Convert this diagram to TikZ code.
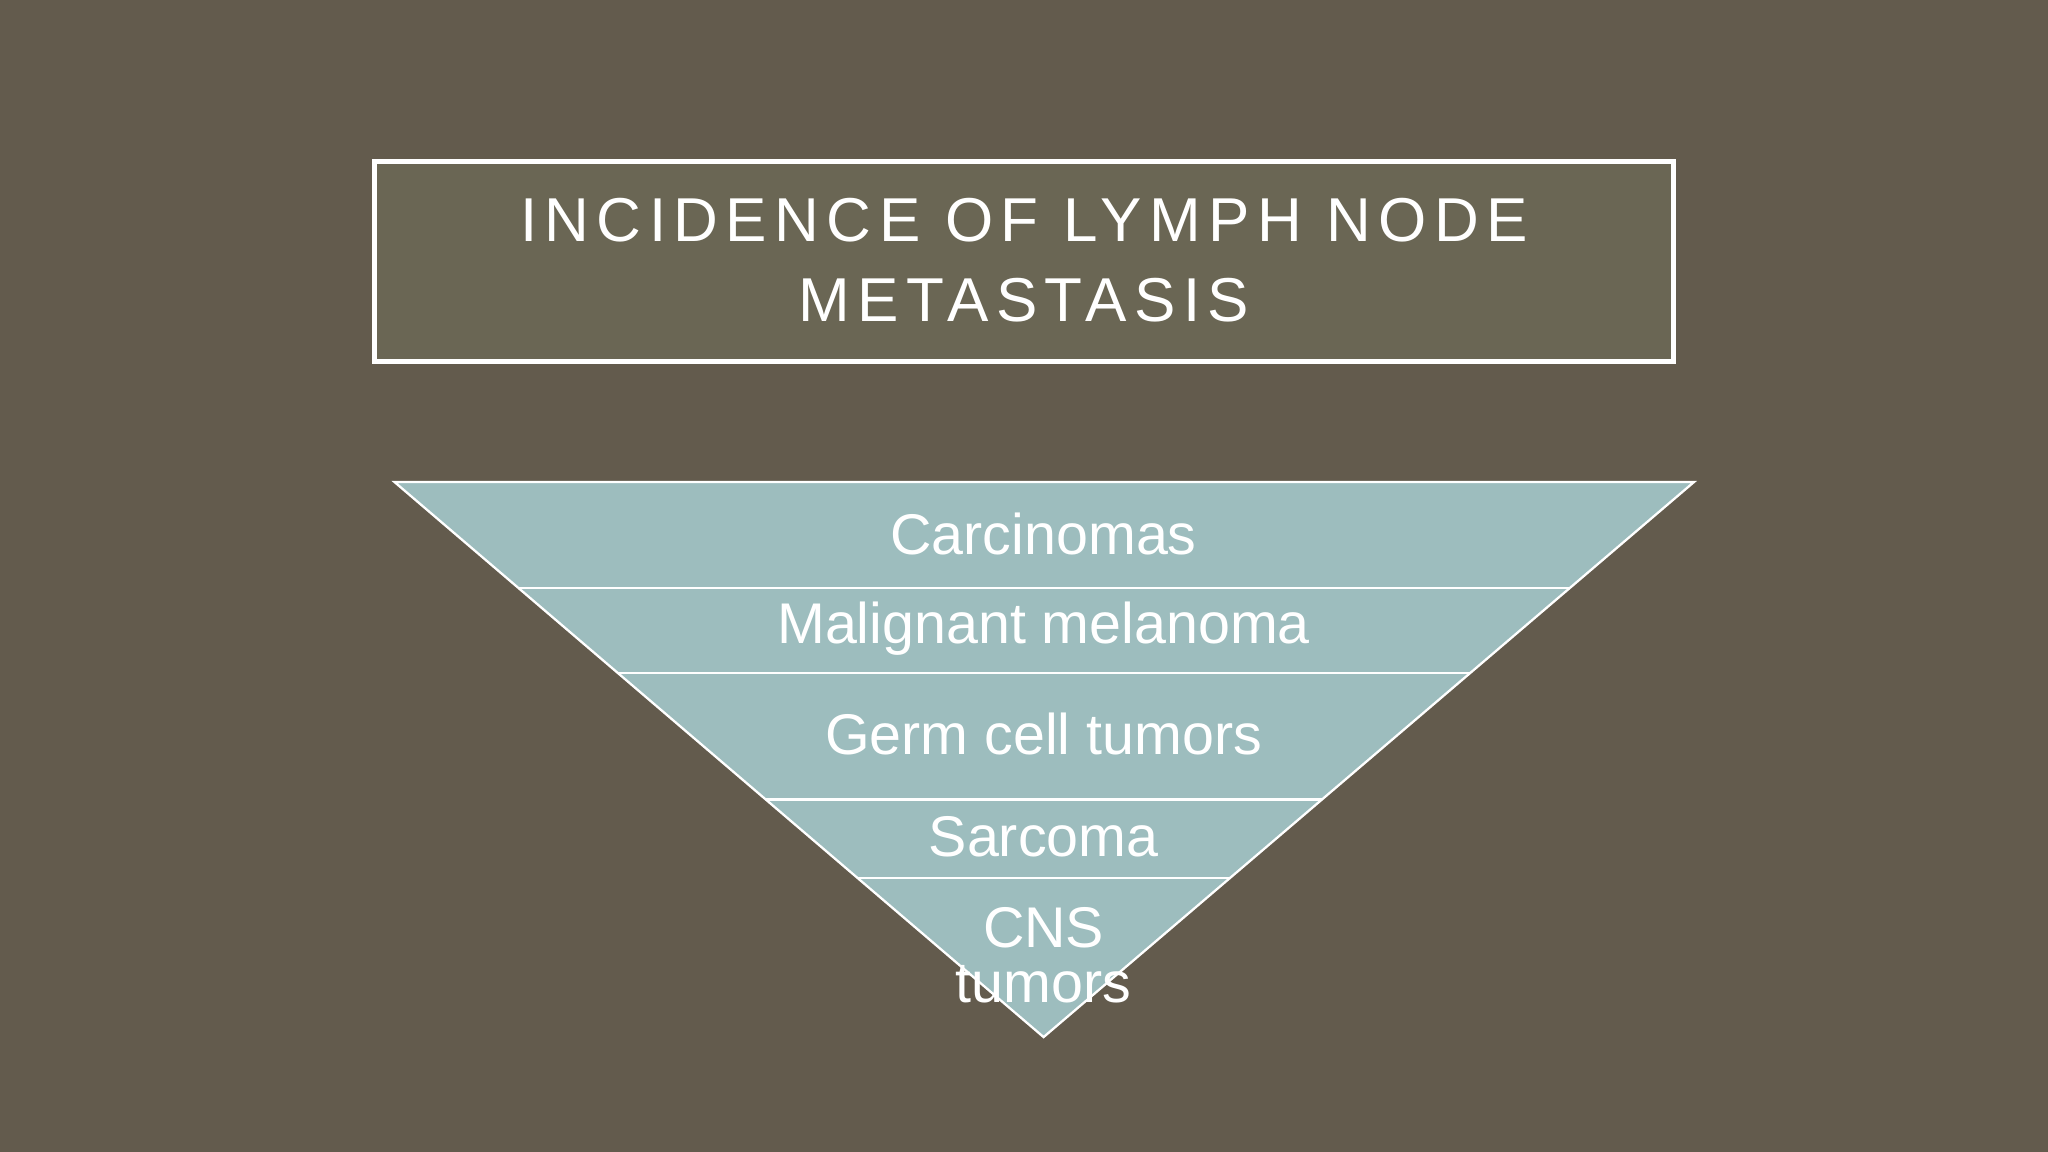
\documentclass[tikz,border=0pt]{standalone}
\usepackage{fontspec}
\setmainfont{Liberation Sans}
\newfontfamily\titlefont[LetterSpace=12]{Liberation Sans}
\definecolor{bg}{HTML}{635B4D}
\definecolor{boxbg}{HTML}{6A6654}
\definecolor{tri}{HTML}{9DBDBE}
\tikzset{lbl/.style={text=white,font=\fontsize{12.5pt}{14pt}\selectfont,align=center}}
\begin{document}
\begin{tikzpicture}[x=0.1mm,y=-0.1mm]
\fill[bg] (0,0) rectangle (1568,882);
\useasboundingbox (0,0) rectangle (1568,882);
\node[draw=white,line width=1.1pt,fill=boxbg,minimum width=99.4mm,minimum height=15.3mm,inner sep=0pt] (title) at (784,200.5) {};
\node[text=white,align=center,font=\titlefont\fontsize{13.5pt}{17.5pt}\selectfont] (tt) at (784,199) {INCIDENCE OF LYMPH NODE\\METASTASIS};
\coordinate (tl) at (302,369);
\coordinate (tr) at (1297,369);
\coordinate (ap) at (799,794);
\fill[tri] (tl) -- (tr) -- (ap) -- cycle;
\begin{scope}
\clip (tl) -- (tr) -- (ap) -- cycle;
\foreach \y in {450,515,612,672} \draw[white,line width=0.5pt] (0,\y) -- (1568,\y);
\end{scope}
\draw[white,line width=0.5pt] (tl) -- (tr) -- (ap) -- cycle;
\node[lbl] (c1) at (799,409) {Carcinomas};
\node[lbl] (c2) at (799,481) {Malignant melanoma};
\node[lbl] (c3) at (799,562) {Germ cell tumors};
\node[lbl] (c4) at (799,641) {Sarcoma};
\node[lbl,font=\fontsize{12.5pt}{12pt}\selectfont] (c5) at (799,731) {CNS\\tumors};
\end{tikzpicture}
\end{document}
